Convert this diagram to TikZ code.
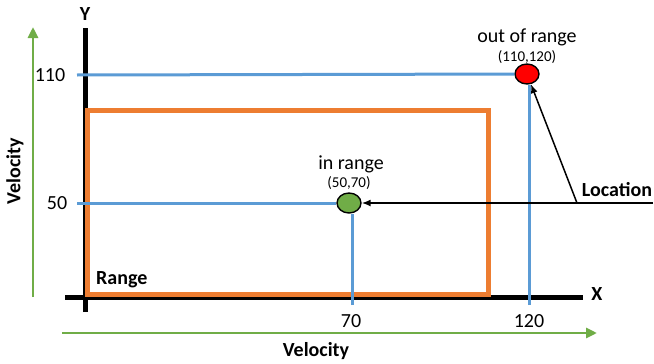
\documentclass[tikz,border=0pt]{standalone}
\usepackage{fontspec}
\setmainfont{Carlito}
\usetikzlibrary{shapes.geometric,arrows.meta}
\definecolor{oorange}{RGB}{237,125,49}
\definecolor{oblue}{RGB}{91,155,213}
\definecolor{ogreen}{RGB}{112,173,71}
\begin{document}
\begin{tikzpicture}[x=1pt,y=-1pt,
  lbl/.style={inner sep=0pt,font=\fontsize{20}{24}\selectfont},
  blbl/.style={inner sep=0pt,font=\fontsize{20}{24}\selectfont\bfseries},
  slbl/.style={inner sep=0pt,font=\fontsize{15}{18}\selectfont},
  axis/.style={line width=5pt,black},
  rangebox/.style={line width=5pt,oorange},
  guide/.style={line width=3pt,oblue},
  garrow/.style={line width=2.8pt,ogreen,-{Triangle[length=11pt,width=10pt]}},
  conn/.style={line width=1.5pt,black,-{Latex[length=9pt,width=7pt]}},
  dot/.style={ellipse,draw,line width=1.4pt,minimum width=24pt,minimum height=20pt,inner sep=0pt}]
\useasboundingbox (0,0) rectangle (654,364);
% axes
\coordinate (ytop) at (85,28);
\coordinate (ybot) at (85,312);
\coordinate (xl) at (65,297);
\coordinate (xr) at (583,297);
\draw[axis] (ybot) -- (ytop);
\draw[axis] (xl) -- (xr);
\node[blbl] (Y) at (85,14) {Y};
\node[blbl] (X) at (597,294) {X};
% range box
\coordinate (r1) at (87,110);
\coordinate (r2) at (488,294);
\draw[rangebox] (r1) rectangle (r2);
\node[blbl,anchor=west] (range) at (96,280) {Range};
% points
\node[dot,fill=red] (red) at (527,74) {};
\node[dot,fill=ogreen] (grn) at (349,203) {};
\node[lbl] (outt) at (527,37) {out of range};
\node[slbl] (outc) at (527,57) {(110,120)};
\node[lbl] (int) at (351,164) {in range};
\node[slbl] (inc) at (349,183) {(50,70)};
% guides
\coordinate (h110) at (77,75);
\coordinate (h50) at (77,203);
\coordinate (v120) at (529,305);
\coordinate (v70) at (352,305);
\draw[guide] (h110) -- (red);
\draw[guide] (h50) -- (grn);
\draw[guide] (v120) -- (v120 |- red.south);
\draw[guide] (v70) -- (v70 |- grn.south);
\node[lbl] (l110) at (50,75) {110};
\node[lbl] (l50) at (57,203) {50};
\node[lbl] (l70) at (351,321) {70};
\node[lbl] (l120) at (529,321) {120};
% location connectors
\coordinate (lend) at (653,203);
\coordinate (ljn) at (577,203);
\node[blbl] (loc) at (617,190) {Location};
\draw[conn] (lend) -- (grn);
\draw[conn] (ljn) -- (red);
% velocity arrows
\coordinate (gv1) at (33,297);
\coordinate (gv2) at (33,27);
\coordinate (gh1) at (62,333);
\coordinate (gh2) at (597,333);
\draw[garrow] (gv1) -- (gv2);
\draw[garrow] (gh1) -- (gh2);
\node[blbl,rotate=90] (vel1) at (15,171) {Velocity};
\node[blbl] (vel2) at (316,351) {Velocity};
\end{tikzpicture}
\end{document}
